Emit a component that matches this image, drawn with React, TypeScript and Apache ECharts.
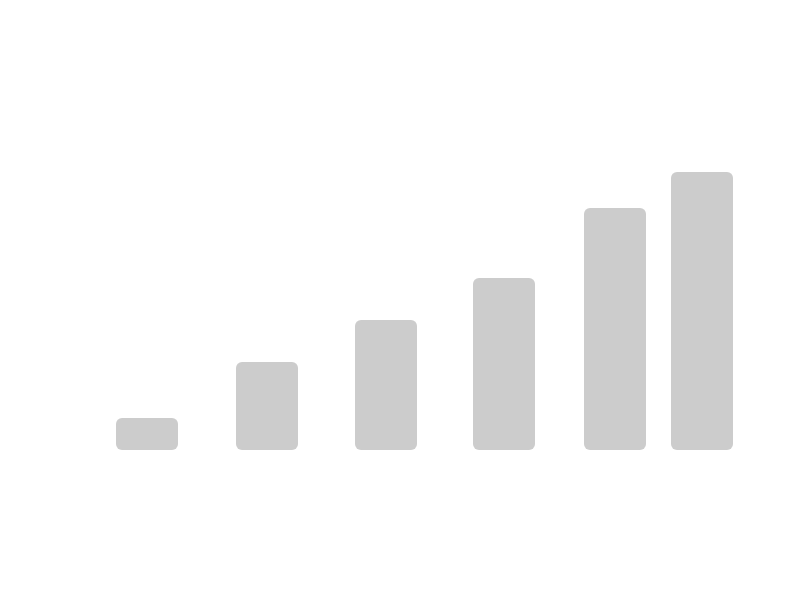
import React, { useEffect, useRef } from "react";
import * as echarts from "echarts";

const xPositions = [147, 267, 386, 504, 615, 702];
const values = [32, 88, 130, 172, 242, 278];

export default function App() {
  const ref = useRef<HTMLDivElement>(null);
  useEffect(() => {
    document.body.style.margin = "0";
    const chart = echarts.init(ref.current!, null, { renderer: "svg" });
    chart.setOption({
      animation: false,
      backgroundColor: "#ffffff",
      grid: { left: 0, right: 0, top: 150, bottom: 142 },
      xAxis: { type: "value", min: 0, max: 800, show: false },
      yAxis: { type: "value", min: 0, max: 300, show: false },
      series: [
        {
          type: "bar",
          barWidth: 62,
          data: xPositions.map((x, i) => [x, values[i]]),
          itemStyle: { color: "#cccccc", borderRadius: 6 },
        },
      ],
    });
    return () => chart.dispose();
  }, []);
  return <div ref={ref} style={{ width: 800, height: 592 }} />;
}
